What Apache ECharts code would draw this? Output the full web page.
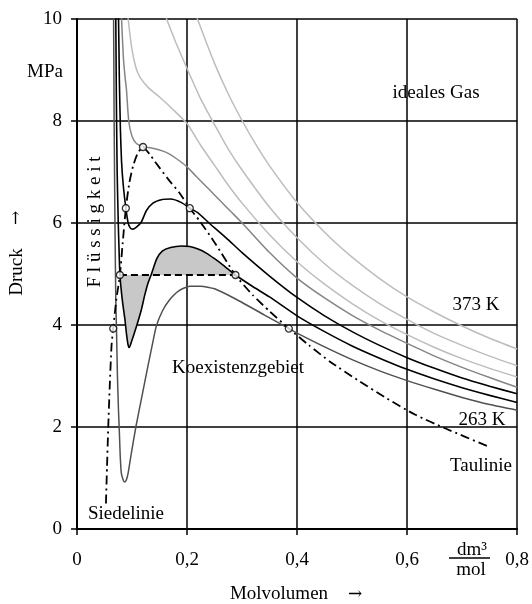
<!DOCTYPE html>
<html>
<head>
<meta charset="utf-8">
<script src="https://cdn.jsdelivr.net/npm/echarts@6.0.0/dist/echarts.min.js"></script>
<style>
  html, body { margin: 0; padding: 0; background: #fff; }
  #chart { width: 532px; height: 604px; }
</style>
</head>
<body>
<div id="chart"></div>
<script>
// isotherms, [molar volume dm³/mol, pressure MPa]
const isotherm373 = [[0.21, 10.28], [0.22, 9.97], [0.25, 9.13], [0.275, 8.53], [0.3, 8.01], [0.325, 7.54], [0.35, 7.12], [0.4, 6.4], [0.45, 5.82], [0.5, 5.33], [0.55, 4.91], [0.6, 4.55], [0.65, 4.25], [0.7, 3.98], [0.75, 3.74], [0.8, 3.53]]
const isotherm343 = [[0.155, 10.24], [0.165, 9.94], [0.18, 9.53], [0.2, 9.03], [0.225, 8.43], [0.25, 7.93], [0.275, 7.45], [0.3, 7.04], [0.35, 6.31], [0.4, 5.71], [0.45, 5.2], [0.5, 4.78], [0.55, 4.42], [0.6, 4.11], [0.65, 3.83], [0.7, 3.6], [0.75, 3.39], [0.8, 3.2]]
const isotherm323 = [[0.091, 10.3], [0.093, 10.0], [0.1, 9.4], [0.107, 9.05], [0.115, 8.85], [0.13, 8.65], [0.15, 8.47], [0.175, 8.22], [0.2, 7.95], [0.225, 7.52], [0.25, 7.13], [0.275, 6.74], [0.3, 6.39], [0.35, 5.77], [0.4, 5.24], [0.45, 4.8], [0.5, 4.42], [0.55, 4.09], [0.6, 3.81], [0.65, 3.56], [0.7, 3.34], [0.75, 3.15], [0.8, 2.98]]
const isotherm304 = [[0.079, 10.5], [0.081, 10.0], [0.084, 9.3], [0.087, 8.9], [0.09, 8.6], [0.094, 8.0], [0.1, 7.7], [0.108, 7.56], [0.12, 7.5], [0.135, 7.47], [0.15, 7.43], [0.165, 7.37], [0.181, 7.26], [0.2, 7.1], [0.217, 6.91], [0.24, 6.66], [0.259, 6.45], [0.28, 6.22], [0.301, 5.99], [0.35, 5.42], [0.4, 4.92], [0.45, 4.53], [0.5, 4.19], [0.55, 3.9], [0.6, 3.64], [0.65, 3.39], [0.7, 3.17], [0.75, 2.97], [0.8, 2.78]]
const isotherm293 = [[0.074, 10.5], [0.0755, 10.0], [0.077, 8.8], [0.079, 7.8], [0.081, 7.2], [0.084, 6.75], [0.0888, 6.29], [0.093, 6.0], [0.097, 5.9], [0.101, 5.88], [0.108, 5.92], [0.117, 6.02], [0.126, 6.24], [0.138, 6.39], [0.155, 6.46], [0.17, 6.47], [0.19, 6.4], [0.205, 6.29], [0.22, 6.2], [0.241, 5.99], [0.271, 5.71], [0.3, 5.42], [0.35, 4.96], [0.4, 4.54], [0.45, 4.18], [0.5, 3.87], [0.55, 3.6], [0.6, 3.36], [0.65, 3.15], [0.7, 2.96], [0.75, 2.8], [0.8, 2.65]]
const isotherm280 = [[0.0695, 10.5], [0.0705, 10.0], [0.0715, 8.5], [0.073, 7.0], [0.075, 6.0], [0.0765, 5.45], [0.078, 4.98], [0.081, 4.62], [0.084, 4.35], [0.087, 4.12], [0.09, 3.82], [0.093, 3.6], [0.095, 3.56], [0.099, 3.67], [0.108, 3.97], [0.117, 4.3], [0.123, 4.58], [0.129, 4.82], [0.135, 4.99], [0.145, 5.3], [0.155, 5.45], [0.17, 5.52], [0.19, 5.55], [0.205, 5.54], [0.22, 5.49], [0.235, 5.41], [0.25, 5.3], [0.265, 5.18], [0.288, 4.98], [0.32, 4.75], [0.35, 4.55], [0.4, 4.18], [0.45, 3.87], [0.5, 3.59], [0.55, 3.35], [0.6, 3.13], [0.65, 2.94], [0.7, 2.77], [0.75, 2.62], [0.8, 2.48]]
const isotherm263 = [[0.0655, 10.5], [0.0665, 10.0], [0.0675, 8.0], [0.069, 6.0], [0.0705, 4.5], [0.072, 3.8], [0.0735, 3.0], [0.0755, 2.3], [0.077, 1.9], [0.0785, 1.45], [0.0805, 1.1], [0.084, 0.96], [0.087, 0.92], [0.09, 0.97], [0.093, 1.1], [0.099, 1.5], [0.107, 2.0], [0.118, 2.6], [0.129, 3.2], [0.137, 3.62], [0.144, 3.97], [0.155, 4.27], [0.168, 4.49], [0.185, 4.67], [0.205, 4.76], [0.225, 4.76], [0.25, 4.71], [0.29, 4.5], [0.34, 4.2], [0.385, 3.93], [0.4, 3.84], [0.45, 3.57], [0.5, 3.32], [0.55, 3.1], [0.6, 2.91], [0.65, 2.74], [0.7, 2.58], [0.75, 2.44], [0.8, 2.33]]

// coexistence boundary
const siedelinie = [[0.0526, 0.5], [0.0545, 1.2], [0.0568, 2.0], [0.0595, 2.8], [0.0628, 3.6], [0.0658, 3.93], [0.0715, 4.5], [0.078, 4.98], [0.083, 5.6], [0.0888, 6.29], [0.095, 6.78], [0.102, 7.12], [0.11, 7.36], [0.12, 7.49]]
const taulinie = [[0.12, 7.49], [0.132, 7.35], [0.144, 7.17], [0.165, 6.87], [0.187, 6.58], [0.205, 6.29], [0.223, 6.04], [0.25, 5.62], [0.288, 4.98], [0.32, 4.58], [0.35, 4.27], [0.385, 3.93], [0.422, 3.6], [0.46, 3.28], [0.513, 2.9], [0.56, 2.58], [0.615, 2.24], [0.67, 1.97], [0.745, 1.63]]
const markedPoints = [[0.0658, 3.93], [0.078, 4.98], [0.0888, 6.29], [0.12, 7.49], [0.205, 6.29], [0.288, 4.98], [0.385, 3.93]]
const maxwellLine = [[0.078, 4.98], [0.288, 4.98]]

const xTicks = [0, 0.2, 0.4, 0.6, 0.8]
const yTicks = [0, 2, 4, 6, 8, 10]

const serif = '"Liberation Serif", "Times New Roman", serif'
const shade = isotherm280.filter(d => d[0] >= maxwellLine[0][0] && d[0] <= maxwellLine[1][0])

function isoLine (data, color, width) {
  return {
    type: 'line',
    data: data,
    showSymbol: false,
    smooth: 0.2,
    silent: true,
    lineStyle: { color: color, width: width }
  }
}

function txt (text, x, y, opts, font) {
  return Object.assign({
    type: 'text',
    x: x,
    y: y,
    silent: true,
    z: 100,
    style: {
      text: text,
      font: font || '19px ' + serif,
      fill: '#000',
      textAlign: 'center',
      textVerticalAlign: 'middle',
      align: 'center',
      verticalAlign: 'middle'
    }
  }, opts || {})
}

const arrowFont = '17px "DejaVu Serif", serif'

const chart = echarts.init(document.getElementById('chart'))

const axisCommon = {
  type: 'value',
  axisLine: { onZero: false, lineStyle: { color: '#000', width: 2 } },
  axisTick: { show: true, length: 6, lineStyle: { color: '#000', width: 1.5 } },
  splitLine: { show: true, lineStyle: { color: '#000', width: 1.5 } }
}

chart.setOption({
  animation: false,
  grid: { left: 77, right: 13, top: 19, bottom: 75 },
  xAxis: Object.assign({}, axisCommon, {
    min: xTicks[0],
    max: xTicks[xTicks.length - 1],
    interval: xTicks[1] - xTicks[0],
    axisLabel: {
      margin: 22,
      color: '#000',
      fontSize: 19,
      fontFamily: serif,
      formatter: v => String(v).replace('.', ',')
    }
  }),
  yAxis: Object.assign({}, axisCommon, {
    min: yTicks[0],
    max: yTicks[yTicks.length - 1],
    interval: yTicks[1] - yTicks[0],
    axisLabel: { margin: 15, color: '#000', fontSize: 19, fontFamily: serif }
  }),
  graphic: [
    txt('MPa', 45, 72),
    txt('Druck', 17, 272, { rotation: Math.PI / 2 }),
    txt('→', 17, 218, { rotation: Math.PI / 2 }, arrowFont),
    txt('F l ü s s i g k e i t', 95, 222, { rotation: Math.PI / 2 }),
    txt('ideales Gas', 436, 93),
    txt('373 K', 476, 305),
    txt('263 K', 482, 420),
    txt('Taulinie', 481, 466),
    txt('Siedelinie', 126, 514),
    txt('Koexistenzgebiet', 238, 368),
    txt('Molvolumen', 279, 594),
    txt('→', 355, 595, null, arrowFont),
    txt('dm³', 472, 550),
    txt('mol', 471, 570),
    {
      type: 'line',
      silent: true,
      shape: { x1: 449, y1: 558, x2: 490, y2: 558 },
      style: { stroke: '#000', lineWidth: 1.3 }
    }
  ],
  series: [
    {
      type: 'custom',
      silent: true,
      data: [[0, 0]],
      z: 1,
      renderItem: (params, api) => ({
        type: 'polygon',
        shape: { points: shade.map(d => api.coord(d)) },
        style: { fill: '#c8c8c8' }
      })
    },
    isoLine(isotherm373, '#bdbdbd', 1.5),
    isoLine(isotherm343, '#bdbdbd', 1.5),
    isoLine(isotherm323, '#bdbdbd', 1.5),
    isoLine(isotherm304, '#858585', 1.5),
    isoLine(isotherm293, '#000', 1.6),
    isoLine(isotherm280, '#000', 1.6),
    isoLine(isotherm263, '#505050', 1.5),
    {
      type: 'line',
      data: maxwellLine,
      showSymbol: false,
      silent: true,
      lineStyle: { color: '#000', width: 2, type: [7, 4] }
    },
    {
      type: 'line',
      data: siedelinie.concat(taulinie.slice(1)),
      showSymbol: false,
      silent: true,
      smooth: 0.2,
      lineStyle: { color: '#000', width: 1.8, type: [9, 4, 2, 4] }
    },
    {
      type: 'scatter',
      data: markedPoints,
      silent: true,
      symbol: 'circle',
      symbolSize: 7,
      z: 10,
      itemStyle: { color: '#fff', borderColor: '#000', borderWidth: 1.3 }
    }
  ]
})
</script>
</body>
</html>
